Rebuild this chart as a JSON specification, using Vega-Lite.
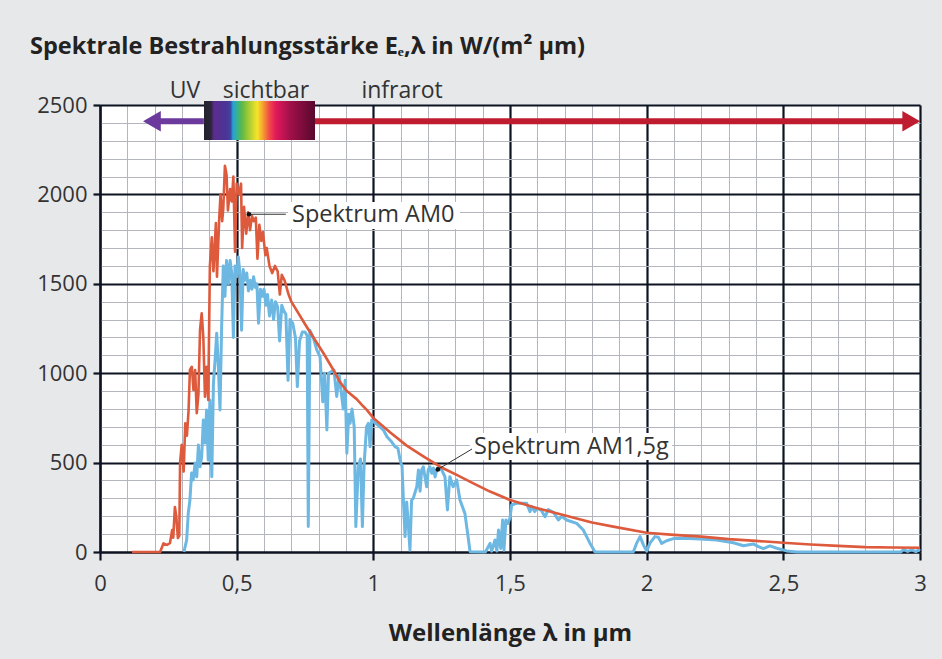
{
  "$schema": "https://vega.github.io/schema/vega-lite/v6.json",
  "width": 820,
  "height": 447,
  "autosize": {"type": "none"},
  "padding": {"left": 100, "top": 105, "right": 22, "bottom": 107},
  "background": "#e7e8ea",
  "config": {"view": {"fill": "white", "stroke": null}, "font": "Open Sans"},
  "title": {
    "text": "Spektrale Bestrahlungsstärke Eₑ,λ in W/(m² µm)",
    "anchor": "start",
    "frame": "group",
    "dx": -70,
    "offset": 21,
    "fontSize": 23.5,
    "fontWeight": "bold",
    "color": "#222222"
  },
  "resolve": {"axis": {"x": "independent", "y": "independent"}},
  "datasets": {
    "am15": [
      {"wl":0.307,"e":0},{"wl":0.317,"e":67},{"wl":0.323,"e":218},{"wl":0.329,"e":291},{"wl":0.335,"e":442},{"wl":0.341,"e":403},{"wl":0.348,"e":498},{"wl":0.354,"e":421},{"wl":0.36,"e":598},{"wl":0.366,"e":477},{"wl":0.372,"e":533},{"wl":0.378,"e":738},{"wl":0.384,"e":610},{"wl":0.39,"e":794},{"wl":0.396,"e":514},{"wl":0.402,"e":850},{"wl":0.409,"e":421},{"wl":0.415,"e":943},{"wl":0.421,"e":1074},{"wl":0.427,"e":1224},{"wl":0.433,"e":1036},{"wl":0.439,"e":794},{"wl":0.445,"e":1260},{"wl":0.451,"e":1600},{"wl":0.457,"e":1430},{"wl":0.463,"e":1630},{"wl":0.47,"e":1500},{"wl":0.476,"e":1630},{"wl":0.482,"e":1560},{"wl":0.488,"e":1200},{"wl":0.494,"e":1600},{"wl":0.5,"e":1540},{"wl":0.506,"e":1650},{"wl":0.512,"e":1560},{"wl":0.518,"e":1240},{"wl":0.524,"e":1580},{"wl":0.53,"e":1520},{"wl":0.537,"e":1560},{"wl":0.543,"e":1460},{"wl":0.55,"e":1520},{"wl":0.556,"e":1470},{"wl":0.562,"e":1540},{"wl":0.568,"e":1480},{"wl":0.574,"e":1500},{"wl":0.58,"e":1280},{"wl":0.587,"e":1470},{"wl":0.594,"e":1430},{"wl":0.6,"e":1470},{"wl":0.607,"e":1380},{"wl":0.613,"e":1440},{"wl":0.62,"e":1320},{"wl":0.628,"e":1410},{"wl":0.635,"e":1300},{"wl":0.642,"e":1400},{"wl":0.65,"e":1370},{"wl":0.657,"e":1180},{"wl":0.665,"e":1380},{"wl":0.672,"e":1350},{"wl":0.68,"e":1330},{"wl":0.688,"e":960},{"wl":0.695,"e":1300},{"wl":0.705,"e":1280},{"wl":0.715,"e":1200},{"wl":0.722,"e":925},{"wl":0.73,"e":1180},{"wl":0.74,"e":1230},{"wl":0.75,"e":1230},{"wl":0.758,"e":1210},{"wl":0.762,"e":142},{"wl":0.768,"e":1240},{"wl":0.78,"e":1200},{"wl":0.793,"e":1130},{"wl":0.805,"e":1092},{"wl":0.815,"e":840},{"wl":0.822,"e":1000},{"wl":0.83,"e":682},{"wl":0.836,"e":1000},{"wl":0.848,"e":1010},{"wl":0.856,"e":1018},{"wl":0.866,"e":870},{"wl":0.875,"e":990},{"wl":0.89,"e":800},{"wl":0.897,"e":960},{"wl":0.903,"e":552},{"wl":0.91,"e":770},{"wl":0.915,"e":720},{"wl":0.922,"e":800},{"wl":0.93,"e":700},{"wl":0.936,"e":142},{"wl":0.945,"e":477},{"wl":0.953,"e":520},{"wl":0.96,"e":142},{"wl":0.966,"e":480},{"wl":0.975,"e":700},{"wl":0.982,"e":720},{"wl":0.988,"e":589},{"wl":0.994,"e":738},{"wl":1.0,"e":730},{"wl":1.02,"e":705},{"wl":1.037,"e":682},{"wl":1.05,"e":645},{"wl":1.065,"e":620},{"wl":1.079,"e":589},{"wl":1.09,"e":580},{"wl":1.098,"e":514},{"wl":1.105,"e":480},{"wl":1.11,"e":291},{"wl":1.116,"e":86},{"wl":1.122,"e":280},{"wl":1.128,"e":150},{"wl":1.134,"e":11},{"wl":1.14,"e":290},{"wl":1.146,"e":300},{"wl":1.152,"e":330},{"wl":1.159,"e":365},{"wl":1.165,"e":459},{"wl":1.171,"e":340},{"wl":1.177,"e":460},{"wl":1.183,"e":477},{"wl":1.189,"e":420},{"wl":1.195,"e":365},{"wl":1.201,"e":460},{"wl":1.207,"e":477},{"wl":1.214,"e":440},{"wl":1.22,"e":470},{"wl":1.226,"e":420},{"wl":1.232,"e":459},{"wl":1.238,"e":470},{"wl":1.25,"e":459},{"wl":1.262,"e":421},{"wl":1.271,"e":235},{"wl":1.28,"e":421},{"wl":1.292,"e":365},{"wl":1.305,"e":403},{"wl":1.317,"e":291},{"wl":1.335,"e":216},{"wl":1.354,"e":2},{"wl":1.41,"e":0},{"wl":1.427,"e":48},{"wl":1.433,"e":5},{"wl":1.445,"e":67},{"wl":1.452,"e":5},{"wl":1.458,"e":123},{"wl":1.466,"e":20},{"wl":1.473,"e":179},{"wl":1.478,"e":10},{"wl":1.485,"e":179},{"wl":1.492,"e":160},{"wl":1.5,"e":190},{"wl":1.506,"e":263},{"wl":1.524,"e":272},{"wl":1.561,"e":272},{"wl":1.573,"e":226},{"wl":1.58,"e":253},{"wl":1.59,"e":226},{"wl":1.6,"e":245},{"wl":1.615,"e":232},{"wl":1.628,"e":197},{"wl":1.64,"e":237},{"wl":1.66,"e":220},{"wl":1.677,"e":179},{"wl":1.69,"e":200},{"wl":1.707,"e":179},{"wl":1.744,"e":160},{"wl":1.768,"e":123},{"wl":1.793,"e":48},{"wl":1.811,"e":0},{"wl":1.951,"e":0},{"wl":1.963,"e":48},{"wl":1.976,"e":86},{"wl":1.988,"e":40},{"wl":2.0,"e":5},{"wl":2.012,"e":50},{"wl":2.03,"e":86},{"wl":2.043,"e":82},{"wl":2.055,"e":48},{"wl":2.073,"e":63},{"wl":2.098,"e":75},{"wl":2.134,"e":77},{"wl":2.195,"e":73},{"wl":2.256,"e":67},{"wl":2.317,"e":52},{"wl":2.354,"e":35},{"wl":2.39,"e":45},{"wl":2.409,"e":30},{"wl":2.427,"e":19},{"wl":2.451,"e":34},{"wl":2.476,"e":21},{"wl":2.512,"e":6},{"wl":2.549,"e":0},{"wl":2.93,"e":0},{"wl":2.94,"e":15},{"wl":2.955,"e":3},{"wl":2.97,"e":12},{"wl":2.985,"e":2},{"wl":2.994,"e":11},{"wl":3.0,"e":5}
    ],
    "am0": [
      {"wl":0.117,"e":0},{"wl":0.22,"e":0},{"wl":0.232,"e":48},{"wl":0.245,"e":40},{"wl":0.256,"e":50},{"wl":0.264,"e":123},{"wl":0.268,"e":80},{"wl":0.274,"e":252},{"wl":0.279,"e":200},{"wl":0.285,"e":78},{"wl":0.29,"e":90},{"wl":0.293,"e":500},{"wl":0.299,"e":600},{"wl":0.306,"e":450},{"wl":0.312,"e":720},{"wl":0.318,"e":650},{"wl":0.324,"e":790},{"wl":0.329,"e":1018},{"wl":0.336,"e":1036},{"wl":0.342,"e":906},{"wl":0.348,"e":1018},{"wl":0.354,"e":776},{"wl":0.36,"e":880},{"wl":0.366,"e":1242},{"wl":0.372,"e":1335},{"wl":0.378,"e":1200},{"wl":0.384,"e":869},{"wl":0.39,"e":1036},{"wl":0.396,"e":850},{"wl":0.402,"e":1600},{"wl":0.409,"e":1760},{"wl":0.415,"e":1570},{"wl":0.424,"e":1840},{"wl":0.428,"e":1540},{"wl":0.436,"e":1860},{"wl":0.441,"e":2000},{"wl":0.447,"e":1850},{"wl":0.451,"e":1920},{"wl":0.457,"e":2160},{"wl":0.463,"e":2110},{"wl":0.468,"e":1910},{"wl":0.476,"e":2030},{"wl":0.482,"e":1960},{"wl":0.488,"e":2100},{"wl":0.494,"e":1680},{"wl":0.5,"e":2060},{"wl":0.509,"e":2000},{"wl":0.516,"e":2060},{"wl":0.52,"e":1700},{"wl":0.527,"e":1930},{"wl":0.535,"e":1780},{"wl":0.542,"e":1900},{"wl":0.549,"e":1800},{"wl":0.556,"e":1880},{"wl":0.563,"e":1850},{"wl":0.57,"e":1870},{"wl":0.576,"e":1640},{"wl":0.583,"e":1830},{"wl":0.59,"e":1740},{"wl":0.596,"e":1790},{"wl":0.605,"e":1660},{"wl":0.61,"e":1700},{"wl":0.62,"e":1600},{"wl":0.63,"e":1560},{"wl":0.64,"e":1600},{"wl":0.65,"e":1570},{"wl":0.658,"e":1440},{"wl":0.665,"e":1550},{"wl":0.675,"e":1520},{"wl":0.69,"e":1440},{"wl":0.7,"e":1400},{"wl":0.756,"e":1260},{"wl":0.817,"e":1113},{"wl":0.854,"e":1018},{"wl":0.878,"e":950},{"wl":0.903,"e":900},{"wl":0.939,"e":855},{"wl":0.963,"e":815},{"wl":0.976,"e":795},{"wl":1.0,"e":750},{"wl":1.061,"e":670},{"wl":1.122,"e":595},{"wl":1.183,"e":535},{"wl":1.244,"e":477},{"wl":1.305,"e":431},{"wl":1.366,"e":384},{"wl":1.427,"e":338},{"wl":1.5,"e":291},{"wl":1.6,"e":245},{"wl":1.695,"e":207},{"wl":1.8,"e":165},{"wl":1.878,"e":142},{"wl":2.0,"e":108},{"wl":2.1,"e":96},{"wl":2.2,"e":86},{"wl":2.3,"e":72},{"wl":2.4,"e":62},{"wl":2.5,"e":52},{"wl":2.6,"e":42},{"wl":2.7,"e":34},{"wl":2.8,"e":27},{"wl":2.9,"e":25},{"wl":3.0,"e":24}
    ]
  },
  "layer": [
    {
      "data": {"name": "am15"},
      "mark": {"type": "line", "color": "#6db7e3", "strokeWidth": 3, "strokeJoin": "round"},
      "encoding": {
        "x": {
          "field": "wl", "type": "quantitative",
          "scale": {"domain": [0, 3], "nice": false, "zero": false},
          "axis": {
            "title": "Wellenlänge λ in µm",
            "titleFontSize": 24, "titleFontWeight": "bold", "titleColor": "#222222", "titlePadding": 27,
            "values": [0,0.1,0.2,0.3,0.4,0.5,0.6,0.7,0.8,0.9,1,1.1,1.2,1.3,1.4,1.5,1.6,1.7,1.8,1.9,2,2.1,2.2,2.3,2.4,2.5,2.6,2.7,2.8,2.9,3],
            "labelExpr": "abs(datum.value*2 - round(datum.value*2)) < 0.001 ? replace(format(datum.value, '~g'), '.', ',') : ''",
            "labelOverlap": false, "labelFlush": false, "labelBound": false,
            "labelFontSize": 22, "labelColor": "#333333", "labelPadding": 13,
            "grid": true,
            "gridColor": {"condition": {"test": "abs(datum.value*2 - round(datum.value*2)) < 0.001", "value": "#0d1321"}, "value": "#b4b6be"},
            "gridWidth": {"condition": {"test": "abs(datum.value*2 - round(datum.value*2)) < 0.001", "value": 2.2}, "value": 1},
            "tickOpacity": {"condition": {"test": "abs(datum.value*2 - round(datum.value*2)) < 0.001", "value": 1}, "value": 0},
            "tickColor": "#0d1321", "tickWidth": 2.2, "tickSize": 8,
            "domainColor": "#0d1321", "domainWidth": 2.2
          }
        },
        "y": {
          "field": "e", "type": "quantitative",
          "scale": {"domain": [0, 2500], "nice": false},
          "axis": {
            "title": null,
            "values": [0,100,200,300,400,500,600,700,800,900,1000,1100,1200,1300,1400,1500,1600,1700,1800,1900,2000,2100,2200,2300,2400,2500],
            "labelExpr": "datum.value % 500 === 0 ? format(datum.value, 'd') : ''",
            "labelOverlap": false, "labelFlush": false, "labelBound": false,
            "labelFontSize": 22, "labelColor": "#333333", "labelPadding": 6,
            "grid": true,
            "gridColor": {"condition": {"test": "datum.value % 500 === 0", "value": "#0d1321"}, "value": "#b4b6be"},
            "gridWidth": {"condition": {"test": "datum.value % 500 === 0", "value": 2.2}, "value": 1},
            "tickOpacity": {"condition": {"test": "datum.value % 500 === 0", "value": 1}, "value": 0},
            "tickColor": "#0d1321", "tickWidth": 2.2, "tickSize": 7,
            "domainColor": "#0d1321", "domainWidth": 2.2
          }
        }
      }
    },
    {
      "data": {"name": "am0"},
      "mark": {"type": "line", "color": "#de5a3c", "strokeWidth": 2.6, "strokeJoin": "round"},
      "encoding": {
        "x": {"field": "wl", "type": "quantitative", "axis": null},
        "y": {"field": "e", "type": "quantitative", "axis": null}
      }
    },
    {
      "data": {"values": [{"a": 0.688, "b": 1.317, "c": 1806, "d": 1957}, {"a": 1.353, "b": 2.093, "c": 515, "d": 666}]},
      "mark": {"type": "rect", "fill": "white"},
      "encoding": {
        "x": {"field": "a", "type": "quantitative", "axis": null},
        "x2": {"field": "b"},
        "y": {"field": "c", "type": "quantitative", "axis": null},
        "y2": {"field": "d"}
      }
    },
    {
      "data": {"values": [{"a": 0.19, "b": 0.38, "c": 2409, "col": "uv"}, {"a": 0.786, "b": 2.96, "c": 2409, "col": "ir"}]},
      "mark": {"type": "rule", "strokeWidth": 6},
      "encoding": {
        "x": {"field": "a", "type": "quantitative", "axis": null},
        "x2": {"field": "b"},
        "y": {"field": "c", "type": "quantitative", "axis": null},
        "color": {"field": "col", "type": "nominal", "scale": {"domain": ["uv", "ir"], "range": ["#6b3a9c", "#c01c30"]}, "legend": null}
      }
    },
    {
      "data": {"values": [{"a": 0.19, "c": 2409, "col": "uv", "dir": "triangle-left"}, {"a": 2.968, "c": 2409, "col": "ir", "dir": "triangle-right"}]},
      "mark": {"type": "point", "filled": true, "opacity": 1, "size": 420},
      "encoding": {
        "x": {"field": "a", "type": "quantitative", "axis": null},
        "y": {"field": "c", "type": "quantitative", "axis": null},
        "shape": {"field": "dir", "type": "nominal", "scale": {"domain": ["triangle-left", "triangle-right"], "range": ["triangle-left", "triangle-right"]}, "legend": null},
        "color": {"field": "col", "type": "nominal", "scale": {"domain": ["uv", "ir"], "range": ["#6b3a9c", "#c01c30"]}, "legend": null}
      }
    },
    {
      "data": {"values": [{"a": 0.3805, "b": 0.7866, "c": 2304, "d": 2522}]},
      "mark": {
        "type": "rect",
        "fill": {
          "gradient": "linear", "x1": 0, "y1": 0, "x2": 1, "y2": 0,
          "stops": [
            {"offset": 0, "color": "#23222c"},
            {"offset": 0.06, "color": "#2a2438"},
            {"offset": 0.09, "color": "#5b2d8e"},
            {"offset": 0.2, "color": "#4b3496"},
            {"offset": 0.24, "color": "#3a4aa0"},
            {"offset": 0.26, "color": "#2a9fd8"},
            {"offset": 0.29, "color": "#30b0a0"},
            {"offset": 0.34, "color": "#5cb848"},
            {"offset": 0.42, "color": "#b8d030"},
            {"offset": 0.48, "color": "#f5e52a"},
            {"offset": 0.53, "color": "#f5a030"},
            {"offset": 0.59, "color": "#f04848"},
            {"offset": 0.65, "color": "#e0185a"},
            {"offset": 0.78, "color": "#a01048"},
            {"offset": 1, "color": "#58082e"}
          ]
        }
      },
      "encoding": {
        "x": {"field": "a", "type": "quantitative", "axis": null},
        "x2": {"field": "b"},
        "y": {"field": "c", "type": "quantitative", "axis": null},
        "y2": {"field": "d"}
      }
    },
    {
      "data": {"values": [{"label": "UV", "a": 0.311, "c": 2540}, {"label": "sichtbar", "a": 0.607, "c": 2540}, {"label": "infrarot", "a": 1.105, "c": 2540}]},
      "mark": {"type": "text", "fontSize": 23, "color": "#333333", "align": "center", "baseline": "alphabetic"},
      "encoding": {
        "x": {"field": "a", "type": "quantitative", "axis": null},
        "y": {"field": "c", "type": "quantitative", "axis": null},
        "text": {"field": "label"}
      }
    },
    {
      "data": {"values": [{"a": 0.545, "b": 0.68, "c": 1889, "d": 1889}, {"a": 1.236, "b": 1.361, "c": 462, "d": 576}]},
      "mark": {"type": "rule", "color": "#333333", "strokeWidth": 1},
      "encoding": {
        "x": {"field": "a", "type": "quantitative", "axis": null},
        "x2": {"field": "b"},
        "y": {"field": "c", "type": "quantitative", "axis": null},
        "y2": {"field": "d"}
      }
    },
    {
      "data": {"values": [{"a": 0.545, "c": 1889}, {"a": 1.236, "c": 462}]},
      "mark": {"type": "point", "filled": true, "color": "#111111", "opacity": 1, "size": 22},
      "encoding": {
        "x": {"field": "a", "type": "quantitative", "axis": null},
        "y": {"field": "c", "type": "quantitative", "axis": null}
      }
    },
    {
      "data": {"values": [{"label": "Spektrum AM0", "a": 0.7025, "c": 1885}, {"label": "Spektrum AM1,5g", "a": 1.368, "c": 587}]},
      "mark": {"type": "text", "fontSize": 23.5, "color": "#333333", "align": "left", "baseline": "middle"},
      "encoding": {
        "x": {"field": "a", "type": "quantitative", "axis": null},
        "y": {"field": "c", "type": "quantitative", "axis": null},
        "text": {"field": "label"}
      }
    }
  ]
}
